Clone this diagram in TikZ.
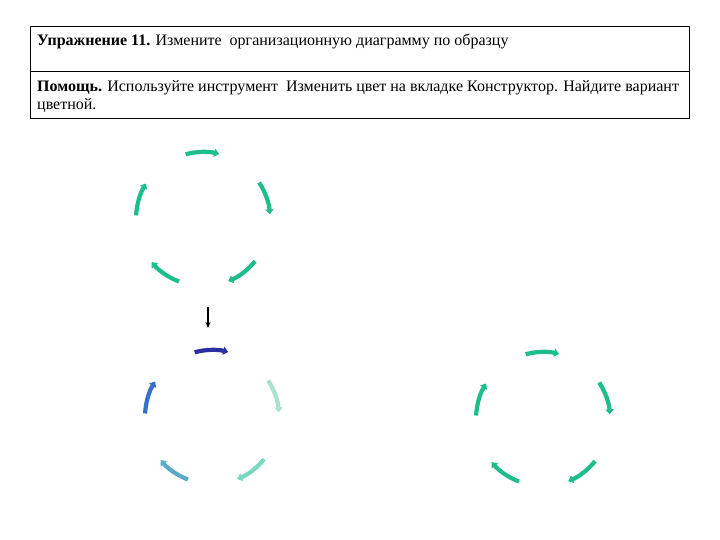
\documentclass[tikz,border=0pt]{standalone}
\usepackage{fontspec}
\setmainfont{Liberation Serif}
\usetikzlibrary{arrows.meta}
\definecolor{grn}{RGB}{30,190,140}
\definecolor{navyc}{RGB}{42,46,160}
\definecolor{pmint}{RGB}{170,226,210}
\definecolor{aqua}{RGB}{120,216,192}
\definecolor{steel}{RGB}{92,170,202}
\definecolor{midblue}{RGB}{52,112,200}
\tikzset{
  cyclearc/.style={line width=4.2pt, -{Triangle[length=5pt,width=8pt]}},
  txt/.style={anchor=base west, inner sep=0pt, font=\fontsize{16}{18}\selectfont},
}
\begin{document}
\begin{tikzpicture}[x=1pt,y=1pt]
\useasboundingbox (0,0) rectangle (720,540);
\fill[white] (0,0) rectangle (720,540);
% header box
\draw[line width=0.8pt] (30,422) rectangle (689,514);
\draw[line width=0.8pt] (30,469) -- (689,469);
\node (t1) [txt] at (37,494) {\textbf{Упражнение 11.} Измените\ \ организационную диаграмму по образцу};
\node (t2) [txt] at (37,448) {\textbf{Помощь.} Используйте инструмент\ \ Изменить цвет на вкладке Конструктор. Найдите вариант};
\node (t3) [txt] at (37,430) {цветной.};
% cycle centres
\coordinate (c1) at (203,321);
\coordinate (c2) at (212,123);
\coordinate (c3) at (543,121);
% cycle 1
\foreach \a in {90,18,-54,-126,162}
  \draw[cyclearc, grn, shift={(c1)}] (\a+15:67) arc[start angle=\a+15, end angle=\a-14, radius=67];
% cycle 2
\foreach \a/\c in {90/navyc,18/pmint,-54/aqua,-126/steel,162/midblue}
  \draw[cyclearc, \c, shift={(c2)}] (\a+15:67) arc[start angle=\a+15, end angle=\a-14, radius=67];
% cycle 3
\foreach \a in {90,18,-54,-126,162}
  \draw[cyclearc, grn, shift={(c3)}] (\a+15:67) arc[start angle=\a+15, end angle=\a-14, radius=67];
% down arrow
\coordinate (p1) at (208,233);
\coordinate (p2) at (208,212);
\draw[line width=1.2pt, -{Stealth[length=6pt,width=5pt]}] (p1) -- (p2);
\end{tikzpicture}
\end{document}
